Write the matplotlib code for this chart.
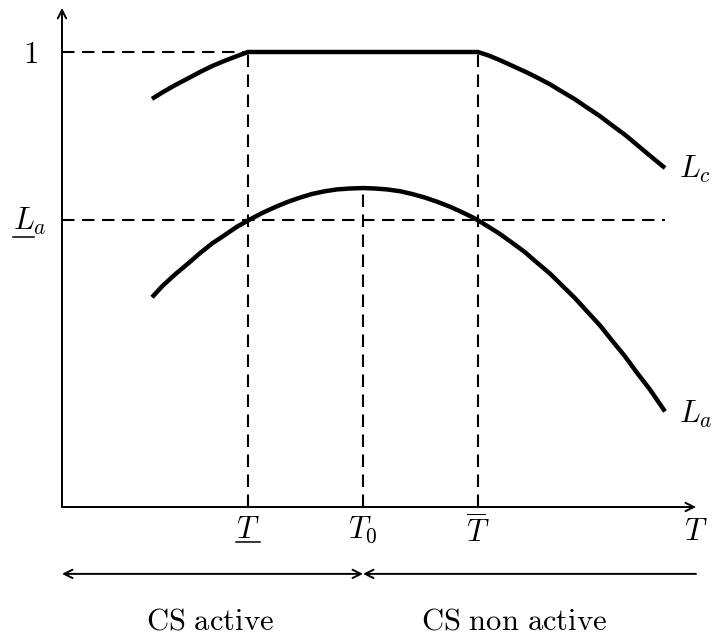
import matplotlib
matplotlib.use("Agg")
import matplotlib.pyplot as plt
from matplotlib.lines import Line2D

plt.rcParams["mathtext.fontset"] = "cm"

# ---------------------------
# DATA
# ---------------------------
# special temperatures on the T axis
T_low = 1.86
T_0 = 3.01
T_high = 4.16
T_end = 6.34

# levels on the L axis
L_one = 1.0
La_low = 0.631

# L_c curve (flat at 1 between T_low and T_high)
T_c = [0.90, 1.01, 1.13, 1.26, 1.38, 1.50, 1.63, 1.75, 1.86, 4.16, 4.27, 4.38, 4.50,
       4.63, 4.75, 4.88, 5.00, 5.13, 5.25, 5.38, 5.50, 5.63, 5.75, 5.88, 6.03]
L_c = [0.897, 0.912, 0.927, 0.942, 0.956, 0.969, 0.981, 0.991, 1.0, 1.0, 0.992, 0.982, 0.970,
       0.957, 0.944, 0.929, 0.913, 0.896, 0.878, 0.859, 0.839, 0.818, 0.796, 0.772, 0.745]

# L_a curve
T_a = [0.90, 1.01, 1.13, 1.26, 1.38, 1.50, 1.63, 1.75, 1.88, 2.00, 2.13, 2.25, 2.38, 2.50,
       2.63, 2.75, 2.88, 3.01, 3.13, 3.25, 3.38, 3.50, 3.63, 3.75, 3.88, 4.00, 4.13, 4.25,
       4.38, 4.50, 4.63, 4.75, 4.88, 5.00, 5.13, 5.25, 5.38, 5.50, 5.63, 5.75, 5.88, 6.03]
L_a = [0.461, 0.487, 0.511, 0.535, 0.558, 0.579, 0.598, 0.616, 0.632, 0.646, 0.659, 0.670,
       0.680, 0.688, 0.694, 0.698, 0.700, 0.701, 0.700, 0.698, 0.694, 0.688, 0.680, 0.671,
       0.660, 0.648, 0.634, 0.618, 0.600, 0.581, 0.560, 0.537, 0.513, 0.487, 0.459, 0.430,
       0.399, 0.366, 0.331, 0.295, 0.258, 0.210]
La_peak = max(L_a)

FS = 22
DASH = (0, (6, 3.6))


# ---------------------------
# HELPERS
# ---------------------------
def arrow(ax, start, end, style):
    ax.annotate("", xy=end, xytext=start,
                arrowprops=dict(arrowstyle=style, lw=1.4, color="black",
                                shrinkA=0, shrinkB=0, mutation_scale=15),
                annotation_clip=False)


def underline(ax, fig, txt, y, frac=1.0):
    # draw a line below a text, spanning part of its width
    fig.canvas.draw()
    bb = txt.get_window_extent().transformed(ax.transData.inverted())
    x1 = bb.x0 + (bb.x1 - bb.x0) * frac
    ax.add_line(Line2D([bb.x0, x1], [y, y], lw=1.1, color="black"))


# ---------------------------
# FIGURE
# ---------------------------
fig = plt.figure(figsize=(7.12, 6.37), dpi=100)
ax = fig.add_axes([0, 0, 1, 1])
ax.set_xlim(-0.62, 6.50)
ax.set_ylim(-130 / 455, 507 / 455)
ax.axis("off")

# axes with arrows
arrow(ax, (0, 0), (0, 1.097), "->")
arrow(ax, (0, 0), (T_end, 0), "->")

# dashed guide lines
ax.plot([0, T_low], [L_one, L_one], color="black", lw=1.5, ls=DASH)
ax.plot([0, T_a[-1]], [La_low, La_low], color="black", lw=1.5, ls=DASH)
ax.plot([T_low, T_low], [0, L_one], color="black", lw=1.5, ls=DASH)
ax.plot([T_high, T_high], [0, L_one], color="black", lw=1.5, ls=DASH)
ax.plot([T_0, T_0], [0, La_peak], color="black", lw=1.5, ls=DASH)

# curves
ax.plot(T_c, L_c, color="black", lw=3.2, solid_capstyle="butt", solid_joinstyle="round")
ax.plot(T_a, L_a, color="black", lw=3.2, solid_capstyle="butt", solid_joinstyle="round")

# y labels
ax.text(-0.315, 0.976, r"$1$", fontsize=FS, ha="center", va="baseline")
t_la = ax.text(-0.49, 0.609, r"$L_a$", fontsize=FS, ha="left", va="baseline")

# x labels
t_tl = ax.text(T_low, -0.068, r"$T$", fontsize=FS, ha="center", va="baseline")
ax.text(T_0, -0.068, r"$T_0$", fontsize=FS, ha="center", va="baseline")
ax.text(T_high, -0.079, r"$\overline{T}$", fontsize=FS, ha="center", va="baseline")
ax.text(T_end, -0.073, r"$T$", fontsize=FS, ha="center", va="baseline")

# curve labels
ax.text(6.17, 0.723, r"$L_c$", fontsize=FS, ha="left", va="baseline")
ax.text(6.17, 0.185, r"$L_a$", fontsize=FS, ha="left", va="baseline")

# regime arrows and texts
y_reg = -0.147
arrow(ax, (0, y_reg), (T_0, y_reg), "<->")
arrow(ax, (T_0, y_reg), (T_end, y_reg), "<-")
ax.text(1.48, -0.270, r"$\mathrm{CS\ active}$", fontsize=FS, ha="center", va="baseline")
ax.text(4.52, -0.270, r"$\mathrm{CS\ non\ active}$", fontsize=FS, ha="center", va="baseline")

# underlines for the lower bounds
underline(ax, fig, t_la, 0.593, frac=0.62)
underline(ax, fig, t_tl, -0.078)

fig.savefig("out.png", dpi=100)
